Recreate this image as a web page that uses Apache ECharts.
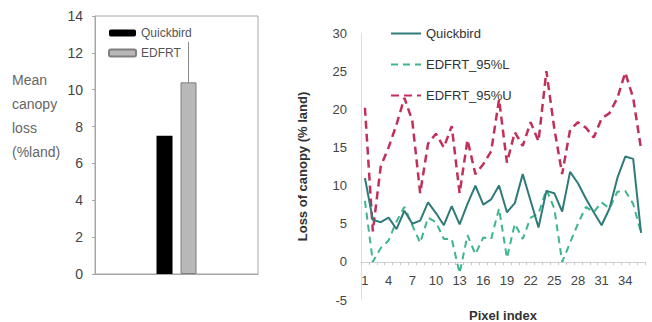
<!DOCTYPE html>
<html>
<head>
<meta charset="utf-8">
<script src="https://cdn.jsdelivr.net/npm/echarts@6/dist/echarts.min.js"></script>
<style>
  html, body { margin: 0; padding: 0; background: #fff; }
  #bars { position: absolute; left: 0; top: 0; width: 290px; height: 322px; }
  #lines { position: absolute; left: 290px; top: 0; width: 362px; height: 322px; }
</style>
</head>
<body>
<div id="bars"></div>
<div id="lines"></div>
<script>
// left panel: mean canopy loss
const meanSeries = ['Quickbird', 'EDFRT']
const meanValues = [7.5, 10.4]
const edfrtUpper = 12.6
const meanTicks = [0, 14, 2] // min, max, step

// right panel: per pixel
const pixelIndex = []
for (let i = 1; i <= 36; i++) pixelIndex.push(String(i))
const quickbird = [11, 5.5, 5.2, 5.8, 4.3, 6.7, 5, 5.4, 7.8, 6.4, 4.8, 7.3, 4.9, 7.6, 10, 7.5, 8.2, 10,
  6.5, 7.7, 11.5, 8, 4.5, 9.3, 9, 6.6, 11.8, 10.3, 8.3, 6.5, 4.8, 7, 11, 13.8, 13.5, 3.8]
const edfrtLow = [8, 0, 1.8, 2.8, 5.3, 7.2, 4.8, 2.5, 5.8, 5.2, 3, 3, -1.5, 3.5, 1, 3.2, 3, 7,
  0.5, 5, 3, 5.8, 6.3, 9.5, 7, 0, 2.5, 5, 7.2, 6.5, 7.8, 7, 9.2, 9.3, 7.6, 3.8]
const edfrtHigh = [20.2, 4, 12.5, 15, 18, 21.5, 18.5, 9, 15.5, 16.8, 15, 17.8, 9, 16, 11.5, 12.8, 14.5, 21.3,
  13, 17, 15.2, 18.3, 15.8, 25, 17.5, 11.5, 17.3, 18.3, 17.6, 16.3, 18.8, 19.5, 21.5, 24.8, 21.5, 14.8]
const lossTicks = [-5, 30, 5]

const font = 'Liberation Sans, Arial, sans-serif'
const barW = 16

const barChart = echarts.init(document.getElementById('bars'), null, { renderer: 'svg' })
barChart.setOption({
  animation: false,
  textStyle: { fontFamily: font },
  grid: {
    left: 95, top: 16, width: 163, height: 258,
    outerBoundsMode: 'none',
    show: true, borderColor: '#a6a6a6', borderWidth: 1
  },
  legend: {
    data: meanSeries,
    orient: 'vertical',
    left: 103,
    top: 22,
    itemWidth: 27,
    itemHeight: 7,
    itemGap: 8,
    textStyle: { fontSize: 12, color: '#555' }
  },
  graphic: [{
    type: 'text',
    left: 12,
    top: 68,
    style: {
      text: 'Mean\ncanopy\nloss\n(%land)',
      fontSize: 14,
      lineHeight: 24,
      fill: '#666',
      fontFamily: font
    }
  }],
  xAxis: {
    type: 'category',
    data: [''],
    axisLine: { lineStyle: { color: '#a6a6a6' } },
    axisTick: { show: false },
    axisLabel: { show: false }
  },
  yAxis: {
    type: 'value',
    min: meanTicks[0],
    max: meanTicks[1],
    interval: meanTicks[2],
    axisLine: { show: true, lineStyle: { color: '#a6a6a6' } },
    axisTick: { show: true, length: 3, lineStyle: { color: '#a6a6a6' } },
    axisLabel: { fontSize: 14, color: '#444', margin: 12 },
    splitLine: { show: false }
  },
  series: [
    {
      name: meanSeries[0],
      type: 'bar',
      barWidth: barW,
      barGap: '50%',
      data: [meanValues[0]],
      itemStyle: { color: '#000' }
    },
    {
      name: meanSeries[1],
      type: 'bar',
      barWidth: barW,
      data: [meanValues[1]],
      itemStyle: { color: '#b8b8b8', borderColor: '#7f7f7f', borderWidth: 1 }
    },
    {
      // error bar above EDFRT
      type: 'custom',
      data: [[0, meanValues[1], edfrtUpper]],
      z: 5,
      renderItem: function(params, api) {
        const lo = api.coord([api.value(0), api.value(1)])
        const hi = api.coord([api.value(0), api.value(2)])
        const dx = barW / 2 + barW * 0.25
        return {
          type: 'line',
          shape: { x1: lo[0] + dx, y1: lo[1], x2: hi[0] + dx, y2: hi[1] },
          style: { stroke: '#8a8a8a', lineWidth: 1 }
        }
      }
    }
  ]
})

const lineChart = echarts.init(document.getElementById('lines'), null, { renderer: 'svg' })
lineChart.setOption({
  animation: false,
  textStyle: { fontFamily: font },
  grid: { left: 71, right: 7, top: 33, bottom: 22, outerBoundsMode: 'none' },
  legend: {
    orient: 'vertical',
    left: 95,
    top: 22,
    itemWidth: 30,
    itemHeight: 14,
    itemGap: 18,
    itemStyle: { opacity: 0 },
    textStyle: { fontSize: 13, color: '#333' }
  },
  xAxis: {
    type: 'category',
    data: pixelIndex,
    boundaryGap: true,
    // axis sits on the zero line (onZero is not applied here, so lift it by one step)
    offset: -38,
    name: 'Pixel index',
    nameLocation: 'middle',
    nameGap: 47,
    nameTextStyle: { fontSize: 13, fontWeight: 'bold', color: '#333' },
    axisLine: { onZero: false, lineStyle: { color: '#d0d0d0' } },
    axisTick: { show: true, interval: 0, length: 3, lineStyle: { color: '#c8c8c8' } },
    axisLabel: { interval: 2, fontSize: 13, color: '#444', margin: 12 }
  },
  yAxis: {
    type: 'value',
    min: lossTicks[0],
    max: lossTicks[1],
    interval: lossTicks[2],
    name: 'Loss of canopy (% land)',
    nameLocation: 'middle',
    nameGap: 52,
    nameTextStyle: { fontSize: 13, fontWeight: 'bold', color: '#333' },
    axisLine: { show: true, lineStyle: { color: '#e0e0e0' } },
    axisTick: { show: false },
    axisLabel: { fontSize: 13, color: '#444', margin: 14 },
    splitLine: { show: false }
  },
  series: [
    {
      name: 'Quickbird',
      type: 'line',
      data: quickbird,
      symbol: 'none',
      z: 4,
      lineStyle: { color: '#2e7b7a', width: 2 },
      itemStyle: { color: '#2e7b7a' }
    },
    {
      name: 'EDFRT_95%L',
      type: 'line',
      data: edfrtLow,
      symbol: 'none',
      z: 3,
      lineStyle: { color: '#3db58e', width: 2, type: [7, 5] },
      itemStyle: { color: '#3db58e' }
    },
    {
      name: 'EDFRT_95%U',
      type: 'line',
      data: edfrtHigh,
      symbol: 'none',
      z: 2,
      lineStyle: { color: '#c22f58', width: 2.5, type: [8, 5] },
      itemStyle: { color: '#c22f58' }
    }
  ]
})

window.onresize = () => {
  barChart.resize()
  lineChart.resize()
}
</script>
</body>
</html>
